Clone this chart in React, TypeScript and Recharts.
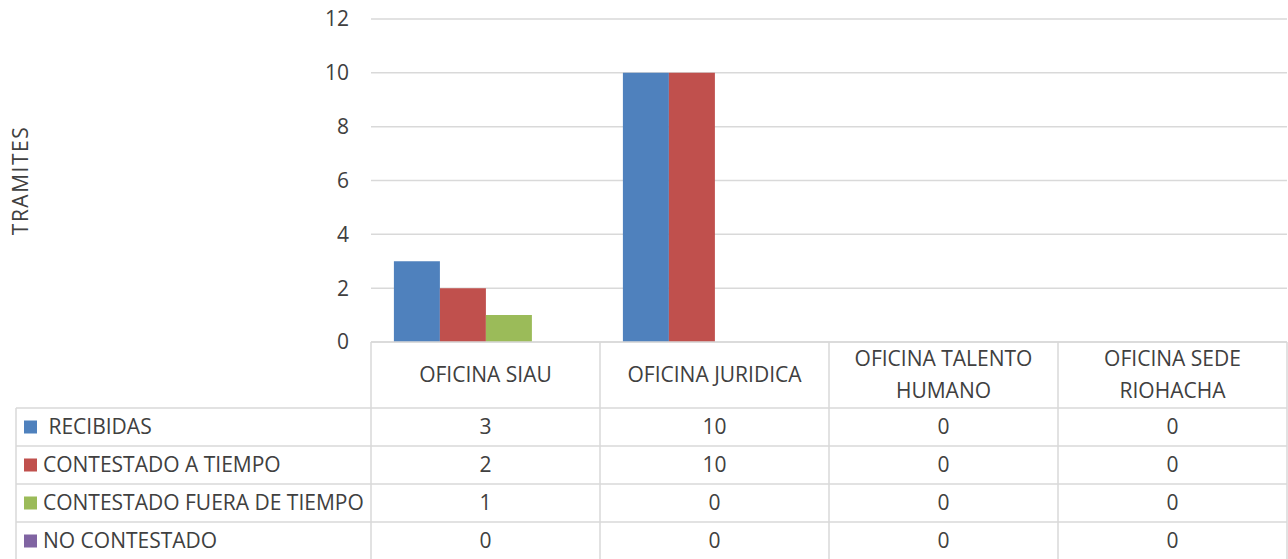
import React from 'react';
import { BarChart, Bar, XAxis, YAxis, CartesianGrid } from 'recharts';

const categories = ['OFICINA SIAU', 'OFICINA JURIDICA', 'OFICINA TALENTO HUMANO', 'OFICINA SEDE RIOHACHA'];
const categoryLines = [['OFICINA SIAU'], ['OFICINA JURIDICA'], ['OFICINA TALENTO', 'HUMANO'], ['OFICINA SEDE', 'RIOHACHA']];
const recibidas = [3, 10, 0, 0];
const contestadoATiempo = [2, 10, 0, 0];
const contestadoFueraDeTiempo = [1, 0, 0, 0];
const noContestado = [0, 0, 0, 0];
const seriesNames = [' RECIBIDAS', 'CONTESTADO A TIEMPO', 'CONTESTADO FUERA DE TIEMPO', 'NO CONTESTADO'];
const seriesKeys = ['recibidas', 'aTiempo', 'fueraTiempo', 'noContestado'];
const seriesColors = ['#4F81BD', '#C0504D', '#9BBB59', '#8064A2'];
const yTicks = [0, 2, 4, 6, 8, 10, 12];
const yLabel = 'TRAMITES';

const seriesValues = [recibidas, contestadoATiempo, contestadoFueraDeTiempo, noContestado];
const data = categories.map((name, i) => {
  const row: any = { name };
  seriesKeys.forEach((k, s) => { row[k] = seriesValues[s][i]; });
  return row;
});

const FONT = '"Open Sans", sans-serif';
const TEXT = '#404040';
const LINE = '#d9d9d9';
const FS = 21;
const HEADER_H = 66;
const ROW_H = 38;
const TABLE_LEFT = 16;
const SWATCH_X = 24;
const LABEL_X = 43;

const TableTick = (props: any) => {
  const { x, y, payload, width } = props;
  const i: number = payload?.index ?? props.index ?? 0;
  const half: number = payload?.offset ? payload.offset : width / categories.length / 2;
  const left = x - half;
  const right = x + half;
  const bottom = y + HEADER_H + ROW_H * seriesNames.length;
  const lines = categoryLines[i] || [String(payload.value)];
  const headerMid = y + HEADER_H / 2;
  const lineGap = 32;
  const els: any[] = [];
  els.push(<line key="vl" x1={left} x2={left} y1={y} y2={bottom} stroke={LINE} strokeWidth={1.5} />);
  if (i === categories.length - 1) {
    els.push(<line key="vr" x1={right} x2={right} y1={y} y2={bottom} stroke={LINE} strokeWidth={1.5} />);
  }
  lines.forEach((ln, j) => {
    const ty = headerMid + (j - (lines.length - 1) / 2) * lineGap;
    els.push(
      <text key={'h' + j} x={x} y={ty} dy="0.35em" textAnchor="middle" fill={TEXT} fontSize={FS} fontFamily={FONT}>{ln}</text>
    );
  });
  seriesNames.forEach((sn, s) => {
    const top = y + HEADER_H + s * ROW_H;
    const x0 = i === 0 ? TABLE_LEFT : left;
    els.push(<line key={'hl' + s} x1={x0} x2={right} y1={top} y2={top} stroke={LINE} strokeWidth={1.5} />);
    els.push(
      <text key={'v' + s} x={x} y={top + ROW_H / 2} dy="0.35em" textAnchor="middle" fill={TEXT} fontSize={FS} fontFamily={FONT}>
        {seriesValues[s][i]}
      </text>
    );
    if (i === 0) {
      els.push(<rect key={'sw' + s} x={SWATCH_X} y={top + ROW_H / 2 - 6.5} width={13} height={13} fill={seriesColors[s]} />);
      els.push(
        <text key={'sn' + s} x={LABEL_X} y={top + ROW_H / 2} dy="0.35em" fill={TEXT} fontSize={FS} fontFamily={FONT} style={{ whiteSpace: 'pre' }}>
          {sn}
        </text>
      );
    }
  });
  if (i === 0) {
    els.push(<line key="tl" x1={TABLE_LEFT} x2={TABLE_LEFT} y1={y + HEADER_H} y2={bottom} stroke={LINE} strokeWidth={1.5} />);
  }
  return <g>{els}</g>;
};

const YTitle = (p: any) => {
  const vb = p.viewBox || { x: 0, y: 19, width: 371, height: 323 };
  const cx = vb.x + 21;
  const cy = vb.y + vb.height / 2;
  return (
    <text x={cx} y={cy} dy="0.35em" textAnchor="middle" transform={`rotate(-90 ${cx} ${cy})`} fill={TEXT} fontSize={FS} letterSpacing={1.5} fontFamily={FONT}>
      {yLabel}
    </text>
  );
};

export default function App() {
  return (
    <div style={{ position: 'absolute', left: 0, top: 0, width: 1288, height: 559, background: '#fff' }}>
      <BarChart
        width={1288}
        height={559}
        data={data}
        margin={{ top: 19, right: 1, bottom: 0, left: 0 }}
        barCategoryGap="10%"
        barGap={0}
        style={{ fontFamily: FONT }}
      >
        <CartesianGrid vertical={false} stroke={LINE} strokeWidth={1.5} />
        <YAxis
          width={371}
          domain={[0, 12]}
          ticks={yTicks}
          interval={0}
          axisLine={false}
          tickLine={false}
          tickMargin={16}
          tick={{ fill: TEXT, fontSize: FS, fontFamily: FONT }}
          label={<YTitle />}
        />
        <XAxis
          dataKey="name"
          height={217}
          interval={0}
          axisLine={{ stroke: LINE, strokeWidth: 1.5 }}
          tickLine={false}
          tickSize={0}
          tickMargin={0}
          tick={<TableTick />}
        />
        {seriesKeys.map((k, s) => (
          <Bar key={k} dataKey={k} name={seriesNames[s]} fill={seriesColors[s]} isAnimationActive={false} />
        ))}
      </BarChart>
    </div>
  );
}
